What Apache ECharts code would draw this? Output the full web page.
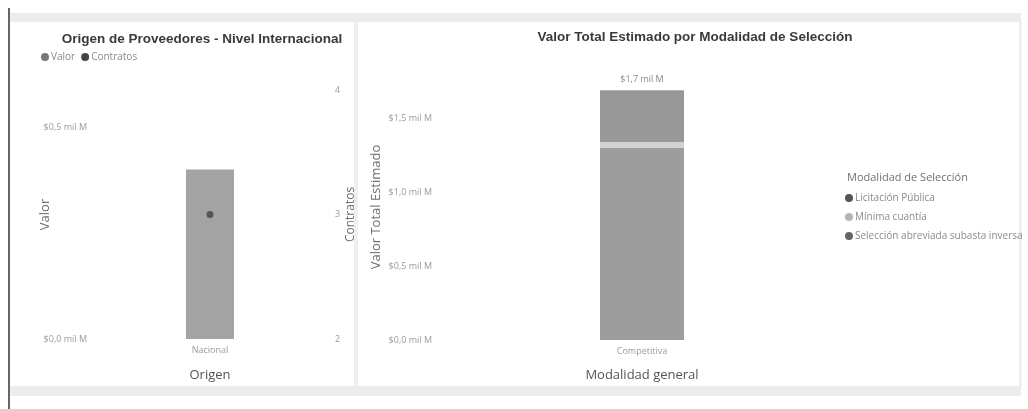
<!DOCTYPE html>
<html>
<head>
<meta charset="utf-8">
<script src="https://cdn.jsdelivr.net/npm/echarts@6/dist/echarts.min.js"></script>
<style>
html,body{margin:0;padding:0;background:#fff;}
#c{width:1028px;height:409px;}
</style>
</head>
<body>
<div id="c"></div>
<script>
// ---- data ----
const origenCategories = ['Nacional'];
const origenValor = [0.40];        // mil M
const origenContratos = [3];
const modalidadCategories = ['Competitiva'];
const licitacionPublica = [1.30];  // mil M
const minimaCuantia = [0.04];
const seleccionAbreviada = [0.35];
const seriesNames = ['Licitación Pública', 'Mínima cuantía', 'Selección abreviada subasta inversa'];

const money = v => '$' + v.toFixed(1).replace('.', ',') + ' mil M';
const totals = modalidadCategories.map((_, i) => licitacionPublica[i] + minimaCuantia[i] + seleccionAbreviada[i]);

const tickFont = {fontFamily: 'Open Sans, sans-serif', fontSize: 9, color: '#9a9a9a'};
const nameFont = {fontFamily: 'Open Sans, sans-serif', fontSize: 13, color: '#707070'};
const titleFont = {fontFamily: 'Liberation Sans, Arial, sans-serif', fontSize: 13.5, fontWeight: 'bold', color: '#3a3a3a'};

const chart = echarts.init(document.getElementById('c'));
chart.setOption({
  backgroundColor: '#fff',
  animation: false,
  graphic: [
    {type: 'rect', shape: {x: 9, y: 13, width: 1012, height: 9}, style: {fill: '#ececec'}, silent: true},
    {type: 'rect', shape: {x: 9, y: 386, width: 1012, height: 10}, style: {fill: '#ececec'}, silent: true},
    {type: 'rect', shape: {x: 8, y: 8, width: 2, height: 401}, style: {fill: '#666'}, silent: true},
    {type: 'rect', shape: {x: 354, y: 22, width: 4, height: 364}, style: {fill: '#efefef'}, silent: true},
    {type: 'rect', shape: {x: 1019, y: 22, width: 3, height: 364}, style: {fill: '#efefef'}, silent: true}
  ],
  title: [
    {text: 'Origen de Proveedores - Nivel Internacional', left: 197, top: 27, textAlign: 'center', textStyle: titleFont},
    {text: 'Valor Total Estimado por Modalidad de Selección', left: 690, top: 25, textAlign: 'center', textStyle: titleFont},
    {text: 'Modalidad de Selección', left: 842, top: 167,
     textStyle: {fontFamily: 'Open Sans, sans-serif', fontSize: 11, fontWeight: 'normal', color: '#707070'}}
  ],
  legend: [
    {data: [{name: 'Valor', itemStyle: {color: '#777'}}, {name: 'Contratos', itemStyle: {color: '#444'}}],
     left: 36, top: 47, icon: 'circle', itemWidth: 8, itemHeight: 8, itemGap: 6,
     textStyle: {fontFamily: 'Open Sans, sans-serif', fontSize: 10, color: '#8a8a8a', padding: [0, 0, 0, -3]}},
    {data: [{name: seriesNames[0], itemStyle: {color: '#555'}}, {name: seriesNames[1], itemStyle: {color: '#b5b5b5'}}, {name: seriesNames[2], itemStyle: {color: '#666'}}],
     orient: 'vertical', left: 840, top: 188, icon: 'circle', itemWidth: 8, itemHeight: 8, itemGap: 9,
     textStyle: {fontFamily: 'Open Sans, sans-serif', fontSize: 10, color: '#8a8a8a', padding: [0, 0, 0, -3]}}
  ],
  grid: [
    {left: 95, right: 703, top: 90, bottom: 70},
    {left: 440, right: 184, top: 74, bottom: 69}
  ],
  xAxis: [
    {type: 'category', gridIndex: 0, data: origenCategories, axisLine: {show: false}, axisTick: {show: false},
     axisLabel: Object.assign({margin: 7}, tickFont),
     name: 'Origen', nameLocation: 'middle', nameGap: 30, nameTextStyle: {fontFamily: 'Open Sans, sans-serif', fontSize: 13, color: '#555'}},
    {type: 'category', gridIndex: 1, data: modalidadCategories, axisLine: {show: false}, axisTick: {show: false},
     axisLabel: Object.assign({margin: 7}, tickFont),
     name: 'Modalidad general', nameLocation: 'middle', nameGap: 29, nameTextStyle: {fontFamily: 'Open Sans, sans-serif', fontSize: 13, color: '#555'}}
  ],
  yAxis: [
    {type: 'value', gridIndex: 0, min: 0, max: 0.588, interval: 0.5,
     axisLabel: Object.assign({margin: 8, showMaxLabel: false, formatter: money}, tickFont),
     splitLine: {show: false}, axisLine: {show: false}, axisTick: {show: false},
     name: 'Valor', nameLocation: 'middle', nameGap: 43, nameMoveOverlap: false, nameTextStyle: nameFont},
    {type: 'value', gridIndex: 0, position: 'right', min: 2, max: 4, interval: 1,
     axisLabel: Object.assign({margin: 10}, tickFont),
     splitLine: {show: false}, axisLine: {show: false}, axisTick: {show: false},
     name: 'Contratos', nameLocation: 'middle', nameGap: 20, nameTextStyle: {fontFamily: 'Open Sans, sans-serif', fontSize: 12, color: '#707070'}},
    {type: 'value', gridIndex: 1, min: 0, max: 1.8, interval: 0.5,
     axisLabel: Object.assign({margin: 8, showMaxLabel: false, formatter: money}, tickFont),
     splitLine: {show: false}, axisLine: {show: false}, axisTick: {show: false},
     name: 'Valor Total Estimado', nameLocation: 'middle', nameGap: 57, nameTextStyle: nameFont}
  ],
  series: [
    {name: 'Valor', type: 'bar', xAxisIndex: 0, yAxisIndex: 0, data: origenValor, barWidth: 48,
     itemStyle: {color: '#a3a3a3'}},
    {name: 'Contratos', type: 'line', xAxisIndex: 0, yAxisIndex: 1, data: origenContratos, symbol: 'circle', symbolSize: 7,
     itemStyle: {color: '#555'}, lineStyle: {width: 0}, z: 5},
    {name: seriesNames[0], type: 'bar', stack: 'm', xAxisIndex: 1, yAxisIndex: 2, data: licitacionPublica, barWidth: 84,
     itemStyle: {color: '#9d9d9d'}},
    {name: seriesNames[1], type: 'bar', stack: 'm', xAxisIndex: 1, yAxisIndex: 2, data: minimaCuantia, barWidth: 84,
     itemStyle: {color: '#d2d2d2'}},
    {name: seriesNames[2], type: 'bar', stack: 'm', xAxisIndex: 1, yAxisIndex: 2, data: seleccionAbreviada, barWidth: 84,
     itemStyle: {color: '#989898'},
     label: {show: true, position: 'top', distance: 6, formatter: p => money(totals[p.dataIndex]),
             fontFamily: 'Open Sans, sans-serif', fontSize: 9, color: '#8a8a8a'}}
  ]
});
</script>
</body>
</html>
